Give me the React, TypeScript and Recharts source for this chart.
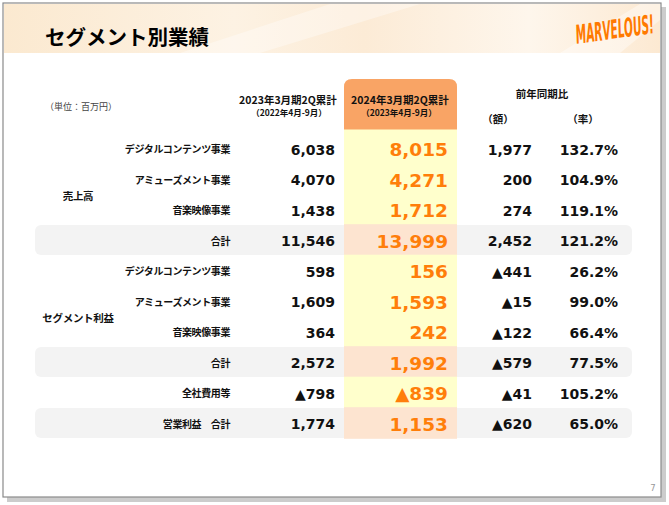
import { ComposedChart, Bar, XAxis, YAxis, Customized } from 'recharts';

const rowLabels = [
  'デジタルコンテンツ事業',
  'アミューズメント事業',
  '音楽映像事業',
  '合計',
  'デジタルコンテンツ事業',
  'アミューズメント事業',
  '音楽映像事業',
  '合計',
  '全社費用等',
  '営業利益　合計',
];
const totalRows = [false, false, false, true, false, false, false, true, false, true];
const prevValues = [6038, 4070, 1438, 11546, 598, 1609, 364, 2572, -798, 1774];
const currValues = [8015, 4271, 1712, 13999, 156, 1593, 242, 1992, -839, 1153];
const diffValues = [1977, 200, 274, 2452, -441, -15, -122, -579, -41, -620];
const rateValues = [132.7, 104.9, 119.1, 121.2, 26.2, 99.0, 66.4, 77.5, 105.2, 65.0];
const groups = [
  { name: '売上高', first: 0, rows: 4 },
  { name: 'セグメント利益', first: 4, rows: 4 },
];

const title = 'セグメント別業績';
const unitLabel = '（単位：百万円）';
const prevHeader = ['2023年3月期2Q累計', '（2022年4月-9月）'];
const currHeader = ['2024年3月期2Q累計', '（2023年4月-9月）'];
const yoyHeader = ['前年同期比', '（額）', '（率）'];

const rows = rowLabels.map((label, i) => ({
  key: 'r' + i,
  i,
  label,
  total: totalRows[i],
  prev: prevValues[i],
  curr: currValues[i],
  diff: diffValues[i],
  rate: rateValues[i],
  group: groups.find((g) => g.first === i),
  full: 1,
}));

const JP = '"Noto Sans CJK JP", "Noto Sans", sans-serif';
const NUM = '"DejaVu Sans", Verdana, sans-serif';
const ORANGE = '#FF7E0A';

const fmt = (v: number) => (v < 0 ? '▲' : '') + Math.abs(v).toLocaleString('en-US');

function RowShape(props: any) {
  const { y, height, payload } = props;
  const mid = y + height / 2;
  const p = payload;
  return (
    <g>
      {p.total && (
        <rect x={35} y={y + 0.5} width={597} height={height - 1} rx={6} fill="#F3F3F3" />
      )}
      <rect x={344} y={y - 0.3} width={113} height={height + 0.6} fill={p.total ? '#FDE4D0' : '#FFFFCC'} />
      <text x={230} y={mid} textAnchor="end" dominantBaseline="central" fontFamily={JP} fontWeight={700} fontSize={10} letterSpacing={-0.4} fill="#111">
        {p.label}
      </text>
      <text x={335} y={mid + 1} textAnchor="end" dominantBaseline="central" fontFamily={NUM} fontWeight={700} fontSize={14} fill="#111">
        {fmt(p.prev)}
      </text>
      <text x={448} y={mid + 1} textAnchor="end" dominantBaseline="central" fontFamily={NUM} fontWeight={700} fontSize={18.5} fill={ORANGE}>
        {fmt(p.curr)}
      </text>
      <text x={532} y={mid + 1} textAnchor="end" dominantBaseline="central" fontFamily={NUM} fontWeight={700} fontSize={14} fill="#111">
        {fmt(p.diff)}
      </text>
      <text x={618} y={mid + 1} textAnchor="end" dominantBaseline="central" fontFamily={NUM} fontWeight={700} fontSize={14} fill="#111">
        {p.rate.toFixed(1) + '%'}
      </text>
      {p.group && (
        <text x={78} y={y + (height * p.group.rows) / 2} textAnchor="middle" dominantBaseline="central" fontFamily={JP} fontWeight={700} fontSize={10.5} letterSpacing={-0.3} fill="#111">
          {p.group.name}
        </text>
      )}
    </g>
  );
}

function Slide() {
  return (
    <g>
      <defs>
        <linearGradient id="band" x1="0" y1="0" x2="1" y2="0">
          <stop offset="0" stopColor="#FBE9D0" />
          <stop offset="0.35" stopColor="#FDF2E3" />
          <stop offset="0.55" stopColor="#FCEBD6" />
          <stop offset="0.8" stopColor="#FEF6EC" />
          <stop offset="1" stopColor="#FCE9D2" />
        </linearGradient>
      </defs>
      <rect x={7} y={7} width={659} height={495} fill="#9a9a9a" opacity={0.5} />
      <rect x={3} y={3} width={658} height={494} fill="#fff" stroke="#8a8a8a" strokeWidth={1.2} />
      <rect x={4} y={4} width={656} height={49} fill="url(#band)" />
      <polygon points="180,53 330,4 420,4 260,53" fill="#fff" opacity={0.35} />
      <polygon points="560,53 640,4 660,4 660,20 620,53" fill="#fff" opacity={0.4} />
      <text x={45} y={36} dominantBaseline="central" fontFamily={JP} fontWeight={700} fontSize={20.5} fill="#000">
        {title}
      </text>
      <text
        x={0}
        y={0}
        transform="translate(576 44) rotate(-8) skewX(-6) scale(1 2.2)"
        fontFamily='"DejaVu Sans Condensed", "DejaVu Sans", sans-serif'
        fontWeight={900}
        fontSize={11.8}
        fill="#FF7A00"
      >
        MARVELOUS!
      </text>
      <text x={45} y={106} dominantBaseline="central" fontFamily={JP} fontSize={9} fill="#444">
        {unitLabel}
      </text>
      <text x={288} y={99} textAnchor="middle" dominantBaseline="central" fontFamily={JP} fontWeight={700} fontSize={10.5} fill="#111">
        {prevHeader[0]}
      </text>
      <text x={289} y={112} textAnchor="middle" dominantBaseline="central" fontFamily={JP} fontWeight={700} fontSize={8.5} fill="#111">
        {prevHeader[1]}
      </text>
      <path d="M344,87 Q344,79 352,79 L449,79 Q457,79 457,87 L457,130 L344,130 Z" fill="#F9A465" />
      <rect x={344} y={129.5} width={113} height={4} fill="#FFFFCC" />
      <text x={400} y={99} textAnchor="middle" dominantBaseline="central" fontFamily={JP} fontWeight={700} fontSize={10.5} fill="#111">
        {currHeader[0]}
      </text>
      <text x={399} y={112} textAnchor="middle" dominantBaseline="central" fontFamily={JP} fontWeight={700} fontSize={8.5} fill="#111">
        {currHeader[1]}
      </text>
      <text x={542} y={93} textAnchor="middle" dominantBaseline="central" fontFamily={JP} fontWeight={700} fontSize={10.5} fill="#111">
        {yoyHeader[0]}
      </text>
      <text x={498} y={118} textAnchor="middle" dominantBaseline="central" fontFamily={JP} fontWeight={700} fontSize={10.5} fill="#111">
        {yoyHeader[1]}
      </text>
      <text x={583} y={118} textAnchor="middle" dominantBaseline="central" fontFamily={JP} fontWeight={700} fontSize={10.5} fill="#111">
        {yoyHeader[2]}
      </text>
      <text x={653} y={488} textAnchor="middle" dominantBaseline="central" fontFamily={NUM} fontSize={8.5} fill="#999">
        7
      </text>
    </g>
  );
}

export default function App() {
  return (
    <div style={{ position: 'absolute', left: 0, top: 0, width: 669, height: 505, background: '#fff' }}>
      <ComposedChart
        width={669}
        height={505}
        layout="vertical"
        data={rows}
        margin={{ top: 133, right: 0, bottom: 67, left: 0 }}
        barCategoryGap={0}
      >
        <Customized component={Slide} />
        <XAxis type="number" domain={[0, 1]} hide />
        <YAxis type="category" dataKey="key" hide />
        <Bar dataKey="full" shape={RowShape} isAnimationActive={false} />
      </ComposedChart>
    </div>
  );
}
